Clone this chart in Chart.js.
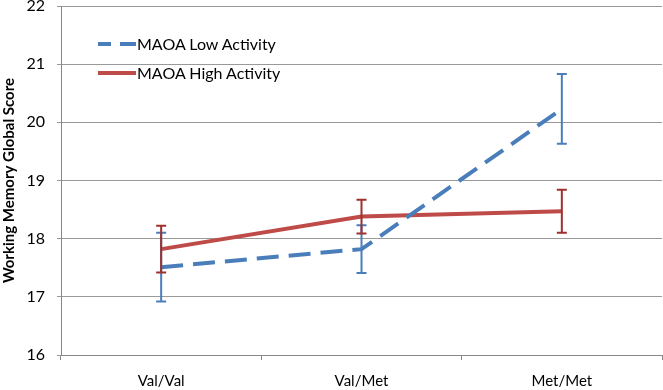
<!DOCTYPE html>
<html>
<head>
<meta charset="utf-8">
<script src="https://cdn.jsdelivr.net/npm/chart.js@4.4.1/dist/chart.umd.min.js"></script>
<style>
  html, body { margin: 0; padding: 0; background: #fff; }
  #wrap { position: relative; width: 663px; height: 390px; }
  #legend { position: absolute; left: 98px; top: 29px; font-family: Lato, "Open Sans", sans-serif; font-size: 16px; color: #000; }
  .row { display: flex; align-items: center; height: 29px; }
  .swatch { width: 38px; height: 4px; margin-right: 1px; }
  .dash { background: linear-gradient(90deg, #4a7ebb 0 13px, transparent 13px 22px, #4a7ebb 22px 38px); }
  .solid { background: #be4b48; }
</style>
</head>
<body>
<div id="wrap">
  <canvas id="chart" width="663" height="390"></canvas>
  <div id="legend">
    <div class="row"><div class="swatch dash"></div>MAOA Low Activity</div>
    <div class="row"><div class="swatch solid"></div>MAOA High Activity</div>
  </div>
</div>
<script>
const categories = ["Val/Val", "Val/Met", "Met/Met"];
const lowValues = [17.51, 17.82, 20.23];
const lowErr = [0.59, 0.41, 0.60];
const highValues = [17.82, 18.38, 18.47];
const highErr = [0.40, 0.29, 0.37];

/* ===============================
   Error bars drawn through scales
   =============================== */
const errorBars = {
    id: "errorBars",
    afterDatasetsDraw(chart) {
        const { ctx, scales: { x, y } } = chart;
        chart.data.datasets.forEach((ds, i) => {
            ds.data.forEach((v, j) => {
                const px = x.getPixelForValue(j);
                const top = y.getPixelForValue(v + ds.errors[j]);
                const bot = y.getPixelForValue(v - ds.errors[j]);
                ctx.save();
                ctx.strokeStyle = ds.errorColor;
                ctx.lineWidth = 2;
                ctx.beginPath();
                ctx.moveTo(px, top); ctx.lineTo(px, bot);
                ctx.moveTo(px - 5, top); ctx.lineTo(px + 5, top);
                ctx.moveTo(px - 5, bot); ctx.lineTo(px + 5, bot);
                ctx.stroke();
                ctx.restore();
            });
        });
    }
};

new Chart(document.getElementById("chart"), {
    type: "line",
    data: {
        labels: categories,
        datasets: [
            {
                label: "MAOA Low Activity",
                data: lowValues,
                errors: lowErr,
                errorColor: "#4a7ebb",
                borderColor: "#4a7ebb",
                borderWidth: 4,
                borderDash: [22, 10],
                pointRadius: 0,
                tension: 0
            },
            {
                label: "MAOA High Activity",
                data: highValues,
                errors: highErr,
                errorColor: "#9e302d",
                borderColor: "#be4b48",
                borderWidth: 4,
                pointRadius: 0,
                tension: 0
            }
        ]
    },
    options: {
        responsive: false,
        animation: false,
        layout: { padding: { left: 0, top: 6, right: 1, bottom: 0 } },
        plugins: { legend: { display: false }, tooltip: { enabled: false } },
        scales: {
            x: {
                offset: true,
                grid: { display: true, drawOnChartArea: false, drawTicks: true, tickLength: 5, color: "#888", offset: true },
                border: { color: "#888" },
                ticks: { color: "#000", font: { family: "Lato, 'Open Sans', sans-serif", size: 15 }, padding: 12 },
                afterFit(scale) { scale.height = 35; }
            },
            y: {
                min: 16,
                max: 22,
                ticks: { stepSize: 1, color: "#000", font: { family: "Lato, 'Open Sans', sans-serif", size: 16, lineHeight: 0.7 }, padding: 0 },
                // long tick slot keeps labels away from the axis; only the inner 4px is drawn
                grid: { color: "#999", tickLength: 16, tickBorderDash: [0, 12, 4, 100] },
                border: { color: "#888" },
                title: {
                    display: true,
                    text: "Working Memory Global Score",
                    color: "#000",
                    font: { family: "Lato, 'Open Sans', sans-serif", size: 15, weight: "bold" },
                    padding: 0
                },
                afterFit(scale) { scale.width = 61; }
            }
        }
    },
    plugins: [errorBars]
});
</script>
</body>
</html>
